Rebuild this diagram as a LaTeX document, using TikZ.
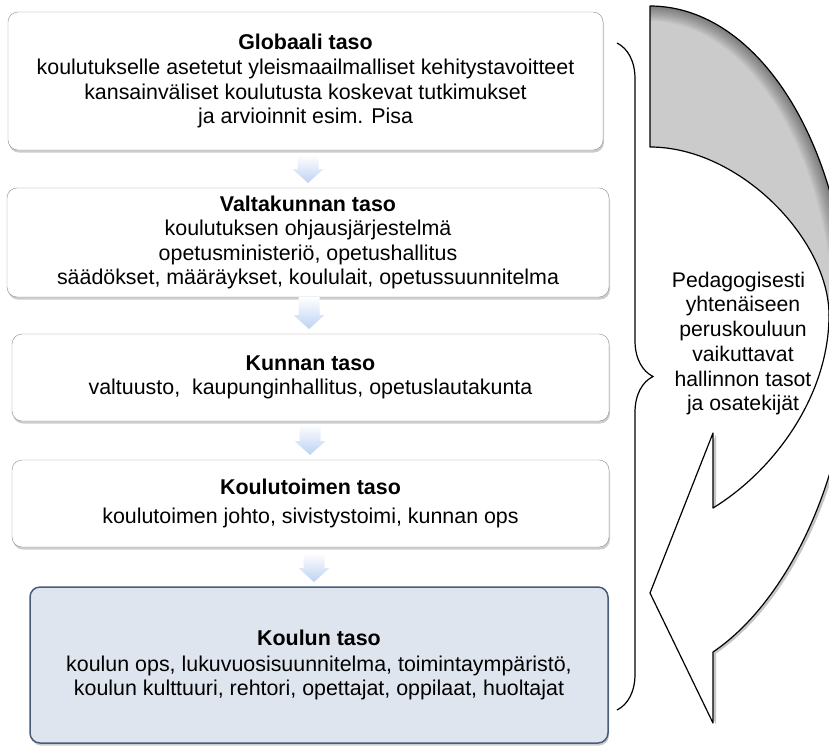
\documentclass[tikz,border=0pt]{standalone}
\usepackage{fontspec}
\setmainfont{Liberation Sans}
\usepackage{tikz}
\usetikzlibrary{shapes,shadows,decorations.pathreplacing}
\definecolor{boxline}{RGB}{140,140,140}
\definecolor{schoolfill}{RGB}{223,229,239}
\definecolor{schoolline}{RGB}{70,92,122}
\definecolor{backgray}{RGB}{203,203,203}
\definecolor{flowblue}{RGB}{190,210,242}
\tikzstyle{level}=[draw=boxline,fill=white,rounded corners=10pt,align=center,inner sep=0pt,
    font=\fontsize{21.4}{24.2}\selectfont,
    drop shadow={shadow xshift=1pt,shadow yshift=-2.5pt,opacity=0.4}]
\tikzstyle{school}=[level,draw=schoolline,fill=schoolfill,line width=1.5pt]
\tikzstyle{flow}=[top color=white,bottom color=flowblue]
\tikzstyle{side}=[align=center,inner sep=0pt,font=\fontsize{21.2}{24.7}\selectfont]
\tikzstyle{turn}=[draw=black,line width=1.2pt,line join=round]

\begin{document}
\begin{tikzpicture}[x=1pt,y=-1pt]
    \useasboundingbox (0,0) rectangle (829,748);
    % The five levels, from the top down
    \node[level,minimum width=595pt,minimum height=138pt] (global) at (305.5,81)
        {\textbf{Globaali taso}\\[1pt]koulutukselle asetetut yleismaailmalliset kehitystavoitteet\\kansainväliset koulutusta koskevat tutkimukset\\ja arvioinnit esim. Pisa};
    \node[level,minimum width=602pt,minimum height=109pt] (nation) at (308,242.5)
        {\textbf{Valtakunnan taso}\\koulutuksen ohjausjärjestelmä\\opetusministeriö, opetushallitus\\säädökset, määräykset, koululait, opetussuunnitelma};
    \node[level,minimum width=597pt,minimum height=87pt] (municipal) at (310.5,377.5)
        {\textbf{Kunnan taso}\\valtuusto,\ \ kaupunginhallitus, opetuslautakunta};
    \node[level,minimum width=597pt,minimum height=87pt] (education) at (310.5,503.5)
        {\textbf{Koulutoimen taso}\\[5pt]koulutoimen johto, sivistystoimi, kunnan ops};
    \node[school,minimum width=578pt,minimum height=156pt] (school) at (319,665)
        {\textbf{Koulun taso}\\[2pt]koulun ops, lukuvuosisuunnitelma, toimintaympäristö,\\koulun kulttuuri, rehtori, opettajat, oppilaat, huoltajat};
    % Small arrows between the levels
    \foreach \x/\top/\tip in {308/155/183, 309/297/329, 310/424/455, 314/553/582}
        \shade[flow] (\x-10.5,\top) -- (\x+10.5,\top) -- (\x+10.5,\tip-14) -- (\x+15.5,\tip-14)
            -- (\x,\tip) -- (\x-15.5,\tip-14) -- (\x-10.5,\tip-14) -- cycle;
    % Brace over all levels
    \draw[decorate,decoration={brace,amplitude=36pt},line width=1.2pt] (617,43) -- (617,710);
    % The turning arrow, cut at the right edge
    \begin{scope}
        \clip (0,0) rectangle (829,748);
        \filldraw[turn,fill=backgray] (650,6) .. controls (760,6) and (850,150) .. (850,340)
            -- (829,315) .. controls (829,240) and (740,147) .. (650,147) -- cycle;
        \begin{scope}
            \clip (650,6) .. controls (760,6) and (850,150) .. (850,340)
                -- (829,315) .. controls (829,240) and (740,147) .. (650,147) -- cycle;
            \foreach \w in {30,27,...,3}
                \draw[line width=\w pt,black,opacity=0.045] (650,6) .. controls (760,6) and (850,150) .. (850,340);
        \end{scope}
        \draw[turn,fill=white,drop shadow={shadow xshift=3pt,shadow yshift=-1.5pt,opacity=0.45}]
            (829,315) .. controls (829,395) and (775,470) .. (713,508) -- (713,433) -- (650,593)
            -- (713,723) -- (713,652) .. controls (790,600) and (850,470) .. (850,340) -- cycle;
    \end{scope}
    % Text inside the turn
    \node[side] (note) at (743,343.5)
        {Pedagogisesti\hspace*{9pt}\\yhtenäiseen\hspace*{29pt}\\peruskouluun\\vaikuttavat\\hallinnon tasot\\ja osatekijät};
\end{tikzpicture}
\end{document}
